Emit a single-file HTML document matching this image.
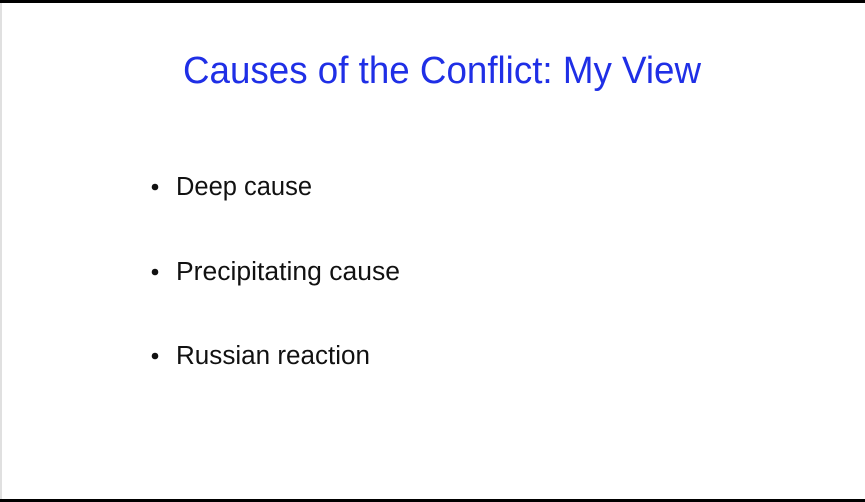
<!DOCTYPE html>
<html><head><meta charset="utf-8"><style>
html,body{margin:0;padding:0;background:#fff;}
svg{display:block}
</style></head><body>
<svg width="865" height="502" xmlns="http://www.w3.org/2000/svg">
<rect x="0" y="0" width="865" height="502" fill="#fff"/>
<rect x="0" y="0" width="865" height="3" fill="#000"/>
<rect x="0" y="499" width="865" height="3" fill="#000"/>
<rect x="0" y="3" width="2" height="496" fill="#e0e0e0"/>
<text x="183" y="83" font-family="Liberation Sans, sans-serif" font-size="38" fill="#1f2fe6" textLength="518" lengthAdjust="spacingAndGlyphs">Causes of the Conflict: My View</text>
<g font-family="Liberation Sans, sans-serif" font-size="25.5" fill="#111">
<circle cx="155" cy="187" r="3.3" fill="#111"/>
<text x="176" y="195" textLength="136" lengthAdjust="spacingAndGlyphs">Deep cause</text>
<circle cx="155" cy="272" r="3.3" fill="#111"/>
<text x="176" y="280" textLength="224" lengthAdjust="spacingAndGlyphs">Precipitating cause</text>
<circle cx="155" cy="356" r="3.3" fill="#111"/>
<text x="176" y="364" textLength="194" lengthAdjust="spacingAndGlyphs">Russian reaction</text>
</g>
</svg>
</body></html>
